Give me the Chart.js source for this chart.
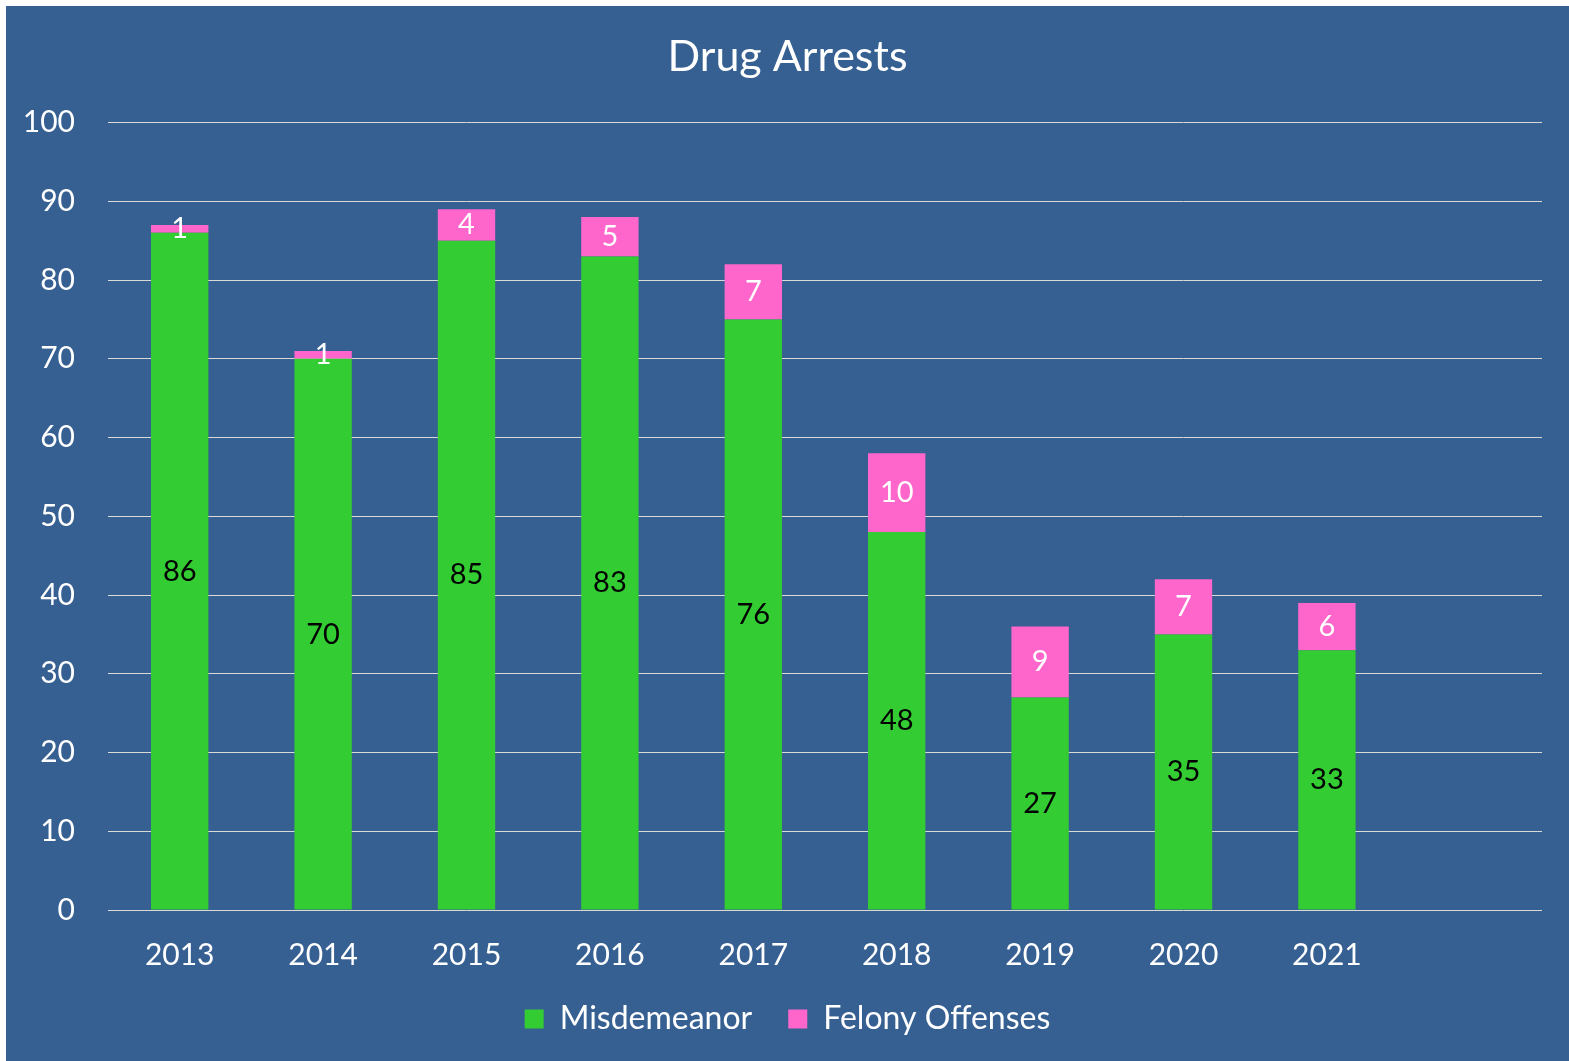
<!DOCTYPE html>
<html>
<head>
<meta charset="utf-8">
<script src="https://cdn.jsdelivr.net/npm/chart.js@4/dist/chart.umd.min.js"></script>
<style>
  html, body { margin: 0; padding: 0; background: #ffffff; }
  #wrap { position: absolute; left: 6px; top: 6px; width: 1563px; height: 1055px; }
</style>
</head>
<body>
<div id="wrap"><canvas id="c"></canvas></div>
<script>
const categories = ["2013", "2014", "2015", "2016", "2017", "2018", "2019", "2020", "2021", ""];
const misdemeanor = [86, 70, 85, 83, 75, 48, 27, 35, 33, null];
const felony = [1, 1, 4, 5, 7, 10, 9, 7, 6, null];
const misdemeanorLabels = ["86", "70", "85", "83", "76", "48", "27", "35", "33", ""];
const felonyLabels = ["1", "1", "4", "5", "7", "10", "9", "7", "6", ""];
const yTicks = [0, 10, 20, 30, 40, 50, 60, 70, 80, 90, 100];

const FONT = "Lato, 'Open Sans', sans-serif";
const BG = "#366092";

const bgPlugin = {
  id: 'bg',
  beforeDraw(chart) {
    const ctx = chart.ctx;
    ctx.save();
    ctx.fillStyle = BG;
    ctx.fillRect(0, 0, chart.width, chart.height);
    ctx.restore();
  }
};

// centre title and legend on the full canvas width (not the padded area)
const centerPlugin = {
  id: 'centerBlocks',
  afterLayout(chart) {
    [chart.titleBlock, chart.legend].forEach(b => {
      if (!b) return;
      b.left = 0;
      b.right = chart.width;
      b.width = chart.width;
    });
  }
};

const labelPlugin = {
  id: 'segLabels',
  afterDatasetsDraw(chart) {
    const ctx = chart.ctx;
    ctx.save();
    ctx.font = "29px " + FONT;
    ctx.textAlign = 'center';
    ctx.textBaseline = 'middle';
    chart.data.datasets.forEach((ds, di) => {
      const meta = chart.getDatasetMeta(di);
      meta.data.forEach((el, i) => {
        const txt = ds.segLabels[i];
        if (!txt) return;
        const y = (el.y + el.base) / 2;
        ctx.fillStyle = ds.segLabelColor;
        ctx.fillText(txt, el.x, y);
      });
    });
    ctx.restore();
  }
};

new Chart(document.getElementById('c'), {
  type: 'bar',
  data: {
    labels: categories,
    datasets: [
      { label: 'Misdemeanor', data: misdemeanor, backgroundColor: '#33CC33', segLabels: misdemeanorLabels, segLabelColor: '#000000', categoryPercentage: 1, barPercentage: 0.4 },
      { label: 'Felony Offenses', data: felony, backgroundColor: '#FF66CC', segLabels: felonyLabels, segLabelColor: '#ffffff', categoryPercentage: 1, barPercentage: 0.4 }
    ]
  },
  options: {
    responsive: true,
    maintainAspectRatio: false,
    animation: false,
    layout: { padding: { left: 0, right: 27, top: 0, bottom: 16 } },
    plugins: {
      title: {
        display: true,
        text: 'Drug Arrests',
        color: '#ffffff',
        font: { family: FONT, size: 43, weight: 'normal' },
        padding: { top: 25, bottom: 40 }
      },
      legend: {
        position: 'bottom',
        labels: {
          color: '#ffffff',
          font: { family: FONT, size: 32 },
          boxWidth: 19,
          boxHeight: 19,
          padding: 36
        }
      },
      tooltip: { enabled: false }
    },
    scales: {
      x: {
        stacked: true,
        afterFit(scale) { scale.height = 57; },
        grid: { display: false, drawTicks: false },
        border: { display: false },
        ticks: { color: '#ffffff', font: { family: FONT, size: 30 }, padding: 27, maxRotation: 0, autoSkip: false }
      },
      y: {
        stacked: true,
        min: 0,
        max: 100,
        afterFit(scale) { scale.width = 102; },
        afterBuildTicks(scale) { scale.ticks = yTicks.map(v => ({ value: v })); },
        grid: { color: '#D9D9D9', lineWidth: 1, drawTicks: false },
        border: { display: false },
        ticks: { color: '#ffffff', font: { family: FONT, size: 30 }, padding: 33 }
      }
    }
  },
  plugins: [bgPlugin, centerPlugin, labelPlugin]
});
</script>
</body>
</html>
